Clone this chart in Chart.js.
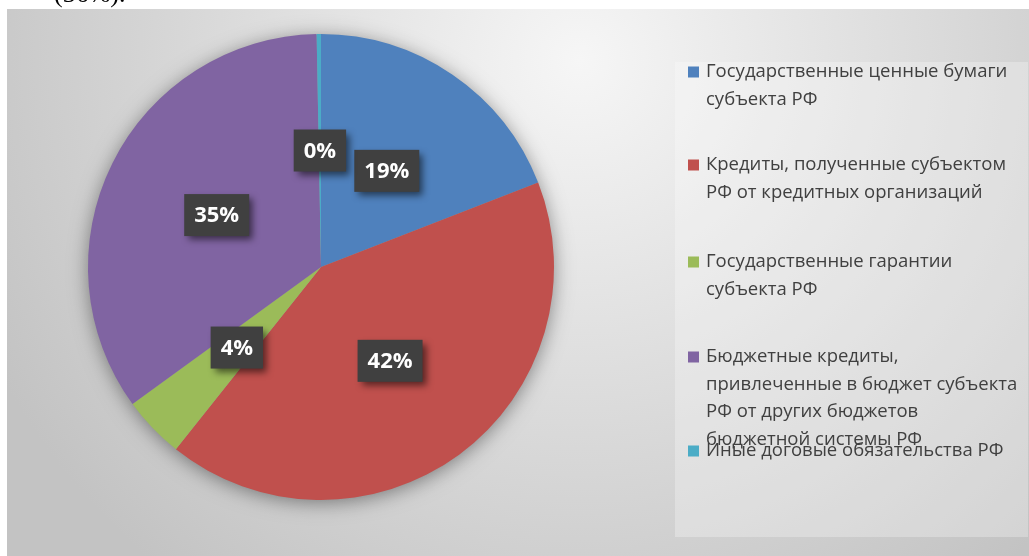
<!DOCTYPE html>
<html>
<head>
<meta charset="utf-8">
<script src="https://cdn.jsdelivr.net/npm/chart.js@4.4.1/dist/chart.umd.min.js"></script>
<style>
  html, body { margin: 0; padding: 0; background: #ffffff; overflow: hidden; }
  #wrap { position: relative; width: 1029px; height: 556px; }
  #top-text {
    position: absolute; left: 54px; top: -21px;
    font: 26px 'Liberation Serif', 'Times New Roman', serif; color: #000;
    white-space: nowrap; z-index: 2;
  }
</style>
</head>
<body>
<div id="wrap">
  <div id="top-text">(36%).</div>
  <canvas id="debtChart" width="1029" height="556"></canvas>
</div>
<script>
// categories (legend text, already wrapped as in the picture)
const categories = [
    ["Государственные ценные бумаги", "субъекта РФ"],
    ["Кредиты, полученные субъектом", "РФ от кредитных организаций"],
    ["Государственные гарантии", "субъекта РФ"],
    ["Бюджетные кредиты,", "привлеченные в бюджет субъекта", "РФ от других бюджетов", "бюджетной системы РФ"],
    ["Иные договые обязательства РФ"]
];
// share of each category, %
const shares = [19.1, 41.6, 4.3, 34.7, 0.3];
const colors = ['#4f81bd', '#c0504d', '#9bbb59', '#8064a2', '#4bacc6'];

const backgroundPlugin = {
    id: 'background',
    beforeDraw(chart) {
        const ctx = chart.ctx;
        const area = chart.chartArea;
        ctx.save();
        // frame with soft radial gradient
        const g = ctx.createRadialGradient(580, 60, 0, 580, 60, 660);
        g.addColorStop(0, '#f6f6f6');
        g.addColorStop(1, '#c3c3c3');
        ctx.fillStyle = g;
        ctx.fillRect(7, 9, 1022, 547);
        // legend panel
        ctx.fillStyle = 'rgba(255,255,255,0.28)';
        ctx.fillRect(675, 62, 353, 475);
        // pie shadow
        const cx = (area.left + area.right) / 2;
        const cy = (area.top + area.bottom) / 2;
        const r = Math.min(area.width, area.height) / 2;
        ctx.shadowColor = 'rgba(0,0,0,0.45)';
        ctx.shadowBlur = 20;
        ctx.shadowOffsetY = 3;
        ctx.beginPath();
        ctx.arc(cx, cy, r - 1, 0, Math.PI * 2);
        ctx.fillStyle = '#999';
        ctx.fill();
        ctx.restore();
    }
};

const boxLabelsPlugin = {
    id: 'boxLabels',
    afterDatasetsDraw(chart) {
        const ctx = chart.ctx;
        const meta = chart.getDatasetMeta(0);
        ctx.save();
        ctx.font = "bold 22px 'Open Sans'";
        ctx.textAlign = 'center';
        ctx.textBaseline = 'middle';
        meta.data.forEach((arc, i) => {
            const pos = arc.tooltipPosition();
            const text = Math.round(shares[i]) + '%';
            const w = ctx.measureText(text).width + 20;
            const h = 42;
            ctx.save();
            ctx.shadowColor = 'rgba(0,0,0,0.55)';
            ctx.shadowBlur = 7;
            ctx.shadowOffsetX = 4;
            ctx.shadowOffsetY = 4;
            ctx.fillStyle = '#404040';
            ctx.fillRect(pos.x - w / 2, pos.y - h / 2, w, h);
            ctx.restore();
            ctx.fillStyle = '#ffffff';
            ctx.fillText(text, pos.x, pos.y + 1);
        });
        ctx.restore();
    }
};

const sideLegendPlugin = {
    id: 'sideLegend',
    afterDraw(chart) {
        const ctx = chart.ctx;
        const itemY = [72, 165, 262, 357, 451];
        const lineStep = 27.5;
        ctx.save();
        ctx.font = "18.5px 'Open Sans'";
        ctx.textBaseline = 'middle';
        ctx.textAlign = 'left';
        categories.forEach((lines, i) => {
            ctx.fillStyle = colors[i];
            ctx.fillRect(688, itemY[i] - 5.5, 11, 11);
            ctx.fillStyle = '#404040';
            lines.forEach((line, k) => {
                ctx.fillText(line, 706, itemY[i] + k * lineStep);
            });
        });
        ctx.restore();
    }
};

new Chart(
    document.getElementById('debtChart'),
    {
        type: 'pie',
        data: {
            labels: categories.map(lines => lines.join(' ')),
            datasets: [
                {
                    data: shares,
                    backgroundColor: colors,
                    borderWidth: 0
                }
            ]
        },
        options: {
            responsive: false,
            animation: false,
            layout: {
                padding: { top: 34, bottom: 56, left: 88, right: 475 }
            },
            plugins: {
                legend: { display: false },
                tooltip: { enabled: false }
            }
        },
        plugins: [backgroundPlugin, boxLabelsPlugin, sideLegendPlugin]
    }
);
</script>
</body>
</html>
